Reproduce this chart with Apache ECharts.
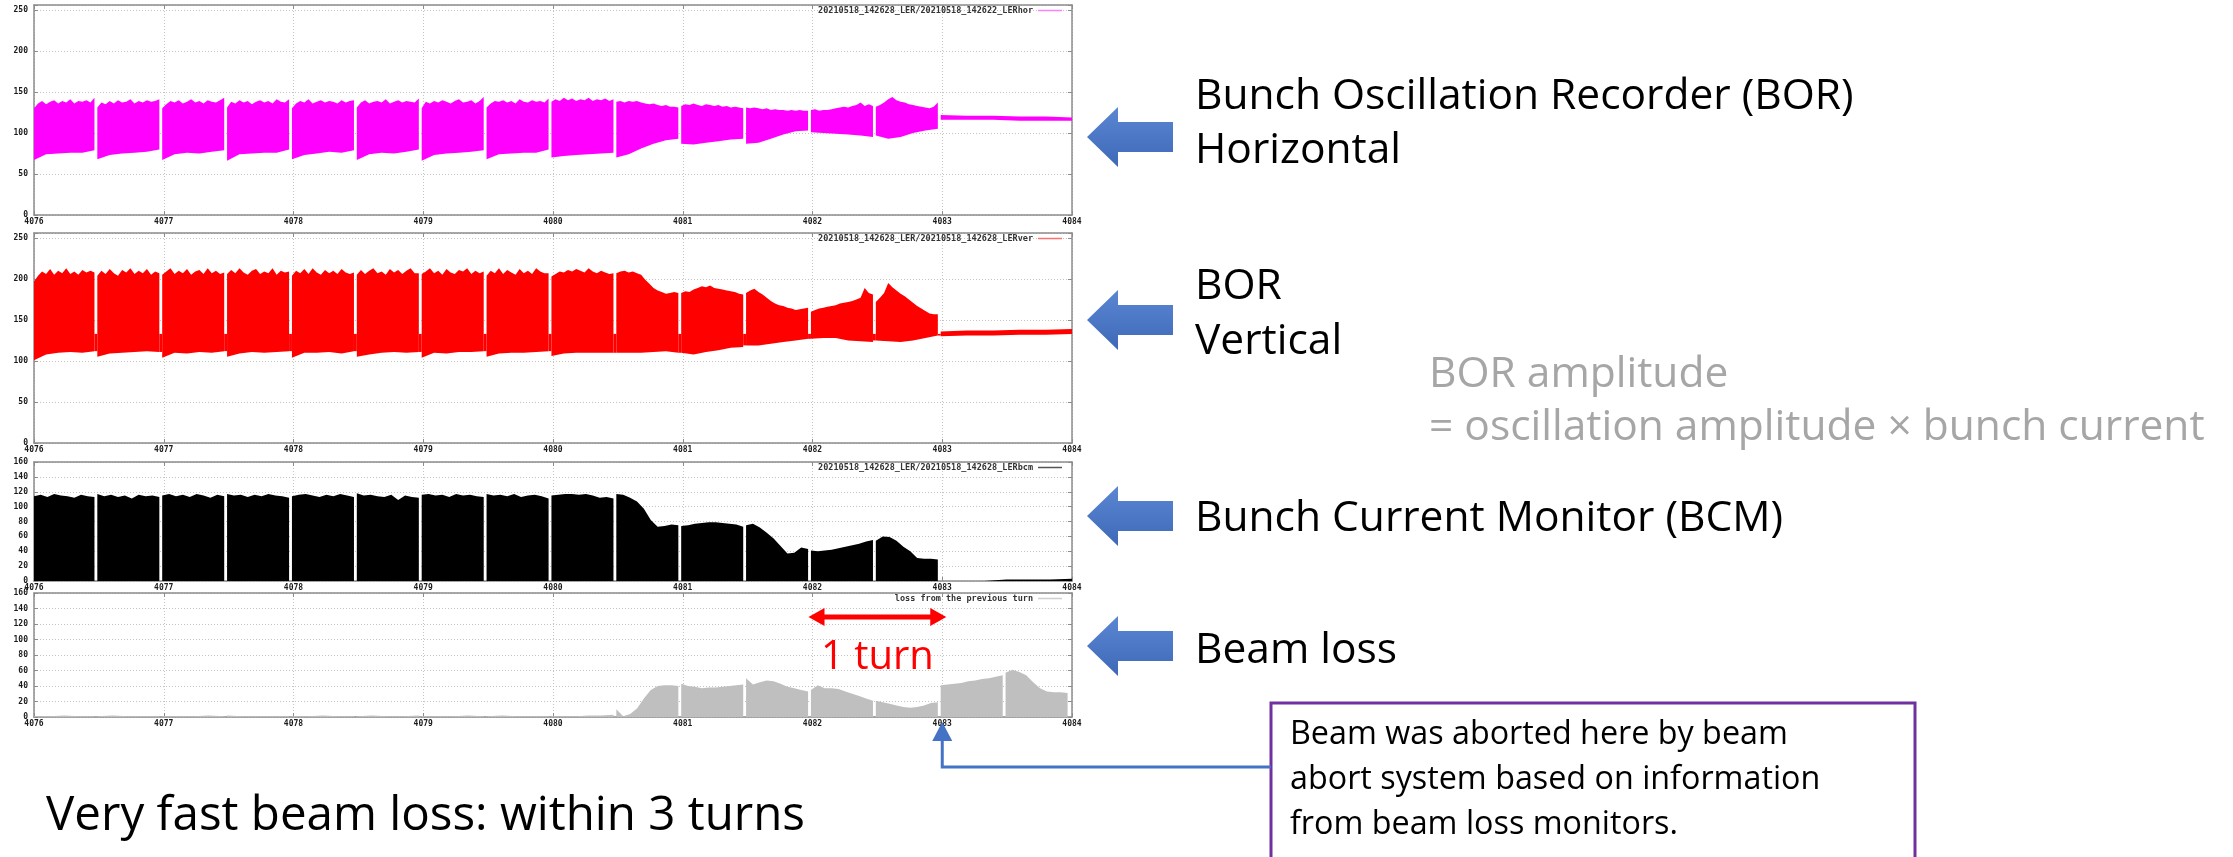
<!DOCTYPE html>
<html>
<head>
<meta charset="utf-8">
<script src="https://cdn.jsdelivr.net/npm/echarts@6/dist/echarts.min.js"></script>
<style>
  html, body { margin: 0; padding: 0; background: #fff; }
  #c { width: 2233px; height: 857px; }
</style>
</head>
<body>
<div id="c"></div>
<script>
// ---- axes ----
const turnRange = [4076, 4084];
const turnStep = 1;
const borRange = [0, 256];
const borStep = 50;
const countRange = [0, 160];
const countStep = 20;

// empty-bucket gaps between bunch trains (turn number)
const gapTurns = [4076.477, 4076.977, 4077.477, 4077.977, 4078.477, 4078.977, 4079.477, 4079.977,
                  4080.477, 4080.977, 4081.477, 4081.977, 4082.477, 4082.977, 4083.477, 4083.977];
const gapHalf = 0.011;
const abortTurn = 4083;

// ---- BOR horizontal: upper / lower envelope per bunch train ----
const horTop = [
  [130, 136, 139, 135, 138, 140, 136, 139, 137, 141, 136, 139, 138, 140, 137, 143],
  [131, 137, 135, 139, 136, 140, 137, 138, 141, 136, 139, 137, 140, 138, 139, 141],
  [130, 135, 139, 137, 140, 136, 138, 141, 137, 139, 136, 140, 138, 137, 140, 143],
  [131, 138, 136, 140, 137, 139, 135, 138, 140, 137, 139, 136, 141, 138, 137, 141],
  [130, 136, 139, 137, 141, 136, 138, 140, 137, 139, 138, 136, 140, 137, 139, 140],
  [131, 137, 140, 136, 138, 139, 137, 141, 136, 138, 140, 137, 139, 138, 137, 142],
  [130, 138, 136, 139, 137, 140, 138, 136, 139, 141, 137, 138, 140, 136, 139, 144],
  [131, 136, 139, 138, 140, 137, 139, 136, 141, 138, 137, 140, 138, 139, 137, 142],
  [138, 141, 139, 143, 140, 142, 139, 141, 140, 143, 139, 141, 140, 142, 139, 141],
  [138, 139, 137, 139, 138, 139, 137, 136, 135, 136, 134, 133, 134, 132, 132, 131],
  [133, 135, 134, 136, 134, 133, 135, 134, 133, 134, 132, 133, 131, 132, 131, 130],
  [131, 130, 131, 130, 129, 130, 128, 129, 128, 128, 127, 128, 127, 128, 127, 127],
  [128, 129, 127, 128, 128, 129, 130, 131, 132, 131, 133, 134, 137, 133, 135, 133],
  [132, 134, 137, 141, 144, 140, 138, 137, 135, 134, 133, 132, 131, 130, 132, 137]
];
const horBot = [
  [67, 74, 75, 76, 76, 79],
  [68, 73, 75, 76, 77, 80],
  [67, 74, 76, 75, 77, 79],
  [66, 74, 75, 76, 76, 80],
  [68, 73, 75, 77, 76, 79],
  [67, 74, 76, 75, 77, 80],
  [66, 73, 75, 76, 77, 79],
  [68, 74, 75, 76, 76, 80],
  [70, 72, 73, 74, 75, 76],
  [70, 74, 81, 87, 91, 93],
  [87, 86, 88, 90, 92, 93],
  [87, 88, 93, 98, 102, 103],
  [101, 100, 99, 98, 97, 95],
  [97, 93, 95, 100, 103, 105]
];
const horTailTop = [122, 121, 121, 120, 120, 119];
const horTailBot = [116, 116, 116, 115, 115, 115];

// ---- BOR vertical ----
const verTop = [
  [197, 204, 209, 206, 212, 205, 210, 207, 213, 206, 209, 205, 211, 208, 210, 208],
  [204, 210, 206, 212, 207, 204, 211, 208, 213, 206, 210, 207, 212, 205, 209, 207],
  [205, 209, 213, 206, 210, 207, 212, 205, 209, 211, 206, 213, 207, 210, 206, 208],
  [206, 211, 207, 213, 208, 205, 210, 212, 206, 209, 207, 213, 205, 210, 208, 209],
  [204, 210, 207, 212, 206, 213, 208, 205, 211, 207, 210, 206, 212, 208, 206, 208],
  [205, 211, 206, 210, 213, 207, 209, 205, 212, 208, 211, 206, 210, 213, 207, 207],
  [206, 209, 213, 207, 210, 205, 212, 208, 206, 211, 209, 213, 206, 210, 207, 209],
  [204, 210, 207, 213, 206, 211, 208, 205, 212, 207, 210, 206, 213, 209, 207, 207],
  [203, 206, 209, 208, 211, 209, 212, 210, 208, 213, 209, 207, 210, 208, 206, 207],
  [207, 209, 210, 208, 209, 207, 205, 199, 194, 189, 186, 184, 182, 183, 184, 183],
  [183, 185, 184, 187, 189, 191, 190, 192, 189, 188, 187, 186, 185, 184, 182, 181],
  [183, 186, 188, 184, 181, 177, 173, 170, 168, 167, 165, 164, 162, 163, 164, 165],
  [160, 162, 164, 165, 166, 167, 168, 170, 171, 172, 173, 175, 177, 189, 183, 181],
  [172, 177, 183, 195, 190, 186, 182, 179, 175, 171, 167, 164, 161, 158, 157, 157]
];
const verBot = [
  [101, 108, 110, 111, 110, 112],
  [105, 109, 110, 111, 112, 111],
  [104, 110, 109, 111, 110, 112],
  [105, 109, 111, 110, 111, 112],
  [104, 110, 110, 111, 109, 112],
  [105, 108, 110, 111, 110, 111],
  [104, 110, 109, 111, 111, 112],
  [105, 109, 110, 110, 111, 112],
  [106, 109, 110, 110, 110, 110],
  [110, 110, 110, 111, 112, 110],
  [110, 108, 111, 113, 116, 117],
  [119, 119, 121, 123, 125, 127],
  [127, 128, 128, 125, 124, 123],
  [125, 124, 123, 125, 128, 131]
];
const verTailTop = [136, 137, 137, 138, 138, 139];
const verTailBot = [130, 131, 131, 132, 132, 133];
const verGapLevel = 133;

// ---- bunch current ----
const bcmTop = [
  [114, 116, 113, 117, 115, 114, 112, 116, 114, 113],
  [117, 114, 116, 113, 115, 111, 116, 114, 115, 113],
  [115, 117, 114, 116, 113, 117, 115, 112, 116, 114],
  [117, 115, 116, 113, 116, 114, 117, 115, 114, 112],
  [114, 116, 117, 115, 113, 116, 114, 117, 115, 113],
  [118, 115, 116, 114, 113, 116, 109, 115, 113, 112],
  [116, 117, 115, 116, 113, 117, 115, 116, 114, 113],
  [117, 115, 116, 114, 117, 113, 115, 116, 114, 111],
  [115, 116, 117, 117, 116, 117, 115, 112, 113, 111],
  [117, 116, 112, 107, 97, 82, 73, 74, 76, 75],
  [74, 75, 77, 78, 79, 79, 78, 77, 76, 73],
  [75, 77, 72, 65, 57, 47, 37, 38, 45, 43],
  [41, 40, 41, 42, 44, 46, 48, 50, 53, 55],
  [54, 60, 59, 54, 46, 40, 31, 30, 30, 29]
];
const bcmTail = [0, 0, 0, 2, 2, 2, 3];

// ---- loss from the previous turn ----
const lossTop = [
  [1, 1, 2, 1, 1],
  [1, 2, 1, 1, 1],
  [1, 1, 1, 2, 1],
  [2, 1, 1, 1, 1],
  [1, 1, 2, 1, 1],
  [1, 2, 1, 1, 2],
  [1, 1, 1, 2, 1],
  [1, 2, 1, 1, 1],
  [1, 1, 1, 2, 2, 3],
  [10, 1, 4, 11, 24, 35, 40, 41, 41, 40],
  [43, 40, 39, 37, 38, 38, 39, 40, 41, 42],
  [50, 42, 45, 47, 46, 43, 39, 37, 35, 33],
  [35, 41, 37, 37, 36, 33, 30, 27, 24, 21],
  [21, 19, 17, 15, 13, 12, 13, 15, 18, 19],
  [41, 42, 43, 44, 46, 47, 49, 50, 52, 54],
  [57, 61, 58, 54, 45, 37, 33, 32, 32, 31]
];

const seriesNames = [
  '20210518_142628_LER/20210518_142622_LERhor',
  '20210518_142628_LER/20210518_142628_LERver',
  '20210518_142628_LER/20210518_142628_LERbcm',
  'loss from the previous turn'
];

// ---- layout / styles ----
const plotLeft = 34, plotWidth = 1038;
const panels = [
  { top: 5,   height: 210, range: borRange,   step: borStep,   color: '#ff00ff', legend: '#ff80ff' },
  { top: 233, height: 210, range: borRange,   step: borStep,   color: '#ff0000', legend: '#ff7070' },
  { top: 462, height: 119, range: countRange, step: countStep, color: '#000000', legend: '#555555' },
  { top: 593, height: 124, range: countRange, step: countStep, color: '#bfbfbf', legend: '#cfcfcf' }
];
const frameColor = '#8c8c8c';
const tickFont = { fontFamily: 'DejaVu Sans Mono', fontSize: 8, fontWeight: 'bold', color: '#1a1a1a' };
const slideFont = '"Open Sans", "Noto Sans", sans-serif';

function segments(tops, bots, tailTop, tailBot) {
  const segs = tops.map((top, k) => ({
    top, bot: bots ? bots[k] : null,
    from: k === 0 ? turnRange[0] : gapTurns[k - 1] + gapHalf,
    to: gapTurns[k] - gapHalf
  }));
  if (tailTop) {
    segs.push({ top: tailTop, bot: tailBot, from: gapTurns[tops.length - 1] + gapHalf, to: turnRange[1] });
  }
  return segs;
}
function along(seg, i, n) { return seg.from + (seg.to - seg.from) * i / (n - 1); }

function bandSeries(name, idx, segs, color) {
  return {
    type: 'custom', name, xAxisIndex: idx, yAxisIndex: idx, silent: true, z: 3,
    itemStyle: { color },
    data: segs.map(s => [s.from, 0]),
    renderItem(params, api) {
      const s = segs[params.dataIndex];
      const pts = s.top.map((v, i) => api.coord([along(s, i, s.top.length), v]));
      if (s.bot) {
        for (let i = s.bot.length - 1; i >= 0; i--) pts.push(api.coord([along(s, i, s.bot.length), s.bot[i]]));
      } else {
        pts.push(api.coord([s.to, 0]));
        pts.push(api.coord([s.from, 0]));
      }
      return { type: 'polygon', shape: { points: pts }, style: { fill: color } };
    }
  };
}

// signal that stays in the empty buckets below a given level
function gapFillSeries(idx, segs, level, color) {
  const pairs = segs.slice(0, -1).map((s, k) => [s, segs[k + 1]]);
  return {
    type: 'custom', xAxisIndex: idx, yAxisIndex: idx, silent: true, z: 3,
    data: pairs.map(p => [p[0].to, 0]),
    renderItem(params, api) {
      const [a, b] = pairs[params.dataIndex];
      const low = Math.max(a.bot[a.bot.length - 1], b.bot[0]);
      const p1 = api.coord([a.to, level]);
      const p2 = api.coord([b.from, low]);
      return { type: 'rect', shape: { x: p1[0], y: p1[1], width: p2[0] - p1[0], height: Math.max(0, p2[1] - p1[1]) },
               style: { fill: color } };
    }
  };
}

const horSegs = segments(horTop, horBot, horTailTop, horTailBot);
const verSegs = segments(verTop, verBot, verTailTop, verTailBot);
const bcmSegs = segments(bcmTop, null, bcmTail, null);
const lossSegs = segments(lossTop, null);

const grid = panels.map(p => ({ left: plotLeft, width: plotWidth, top: p.top, height: p.height }));
const xAxis = [], yAxis = [];
panels.forEach((p, i) => {
  xAxis[i] = {
    type: 'value', gridIndex: i, min: turnRange[0], max: turnRange[1], interval: turnStep,
    axisLine: { show: true, onZero: false, lineStyle: { color: frameColor, width: 1.5 } },
    axisTick: { show: true, inside: true, length: 4, lineStyle: { color: frameColor } },
    axisLabel: Object.assign({ margin: 3, formatter: v => String(v) }, tickFont),
    splitLine: { show: true, lineStyle: { color: '#c4c4c4', type: [1, 2], width: 1 } }
  };
  xAxis[i + 4] = {
    type: 'value', gridIndex: i, position: 'top', min: turnRange[0], max: turnRange[1], interval: turnStep,
    axisLine: { show: true, onZero: false, lineStyle: { color: frameColor, width: 1.5 } },
    axisTick: { show: true, inside: true, length: 4, lineStyle: { color: frameColor } },
    axisLabel: { show: false }, splitLine: { show: false }
  };
  yAxis[i] = {
    type: 'value', gridIndex: i, min: p.range[0], max: p.range[1], interval: p.step,
    axisLine: { show: true, lineStyle: { color: frameColor, width: 1.5 } },
    axisTick: { show: true, inside: true, length: 4, lineStyle: { color: frameColor } },
    axisLabel: Object.assign({ margin: 6, formatter: v => (v % p.step === 0 ? String(v) : '') }, tickFont),
    splitLine: { show: true, lineStyle: { color: '#c4c4c4', type: [1, 2], width: 1 } }
  };
  yAxis[i + 4] = {
    type: 'value', gridIndex: i, position: 'right', min: p.range[0], max: p.range[1], interval: p.step,
    axisLine: { show: true, lineStyle: { color: frameColor, width: 1.5 } },
    axisTick: { show: true, inside: true, length: 4, lineStyle: { color: frameColor } },
    axisLabel: { show: false }, splitLine: { show: false }
  };
});

const legend = panels.map((p, i) => ({
  data: [{ name: seriesNames[i], icon: 'path://M0,0L24,0L24,1.5L0,1.5Z', itemStyle: { color: p.legend } }],
  right: 2233 - (plotLeft + plotWidth) + 10, top: p.top + 1,
  align: 'right', itemWidth: 24, itemHeight: 2, padding: 0, selectedMode: false,
  textStyle: { fontFamily: 'DejaVu Sans Mono', fontSize: 8.5, fontWeight: 'bold', color: '#333' }
}));

const series = [
  bandSeries(seriesNames[0], 0, horSegs, panels[0].color),
  bandSeries(seriesNames[1], 1, verSegs, panels[1].color),
  gapFillSeries(1, verSegs, verGapLevel, panels[1].color),
  bandSeries(seriesNames[2], 2, bcmSegs, panels[2].color),
  bandSeries(seriesNames[3], 3, lossSegs, panels[3].color)
];

const chart = echarts.init(document.getElementById('c'));
chart.setOption({ animation: false, backgroundColor: '#fff', grid, xAxis, yAxis, legend, series });

// ---- slide annotations ----
function text(str, x, baseline, size, color) {
  return {
    type: 'text', x, y: baseline - size * 0.34, silent: true, z: 10,
    style: { text: str, fontFamily: slideFont, fontSize: size, fill: color,
             align: 'left', textAlign: 'left', verticalAlign: 'middle', textVerticalAlign: 'middle' }
  };
}
function blockArrow(cy) {
  const x = 1087;
  return {
    type: 'polygon', silent: true, z: 10,
    shape: { points: [[x, cy], [x + 31, cy - 30], [x + 31, cy - 15], [x + 86, cy - 15],
                      [x + 86, cy + 15], [x + 31, cy + 15], [x + 31, cy + 30]] },
    style: { fill: new echarts.graphic.LinearGradient(0, 0, 0, 1, [
      { offset: 0, color: '#5b86d2' }, { offset: 1, color: '#3e69b8' }]) }
  };
}

const g = [];
[137, 320, 516, 646].forEach(cy => g.push(blockArrow(cy)));
g.push(text('Bunch Oscillation Recorder (BOR)', 1195, 111, 42.5, '#000'));
g.push(text('Horizontal', 1195, 165, 42.5, '#000'));
g.push(text('BOR', 1195, 301, 42.5, '#000'));
g.push(text('Vertical', 1195, 356, 42.5, '#000'));
g.push(text('BOR amplitude', 1429, 389, 42.5, '#a6a6a6'));
g.push(text('= oscillation amplitude \u00d7 bunch current', 1429, 442, 42.5, '#a6a6a6'));
g.push(text('Bunch Current Monitor (BCM)', 1195, 533, 42.5, '#000'));
g.push(text('Beam loss', 1195, 665, 42.5, '#000'));
g.push(text('Very fast beam loss: within 3 turns', 46, 833, 47.5, '#000'));

// note box
g.push({ type: 'rect', silent: true, z: 9, shape: { x: 1271, y: 703, width: 644, height: 220 },
         style: { fill: '#fff', stroke: '#7030a0', lineWidth: 3 } });
g.push(text('Beam was aborted here by beam', 1290, 746, 32.3, '#000'));
g.push(text('abort system based on information', 1290, 791, 32.3, '#000'));
g.push(text('from beam loss monitors.', 1290, 836, 32.3, '#000'));

// pointer to the abort turn
const abortPx = chart.convertToPixel({ gridIndex: 3 }, [abortTurn, 0]);
const ax = abortPx[0];
g.push({ type: 'polyline', silent: true, z: 10, shape: { points: [[ax, 738], [ax, 767], [1271, 767]] },
         style: { stroke: '#4472c4', lineWidth: 3, fill: null } });
g.push({ type: 'polygon', silent: true, z: 10, shape: { points: [[ax, 722], [ax - 10, 741], [ax + 10, 741]] },
         style: { fill: '#4472c4' } });

// one-turn span
const p0 = chart.convertToPixel({ gridIndex: 3 }, [abortTurn - 1, 129]);
const p1 = chart.convertToPixel({ gridIndex: 3 }, [abortTurn, 129]);
const xa = p0[0] - 4, xb = p1[0] + 4, ya = p0[1];
g.push({ type: 'line', silent: true, z: 10, shape: { x1: xa + 12, y1: ya, x2: xb - 12, y2: ya },
         style: { stroke: '#ff0000', lineWidth: 5 } });
g.push({ type: 'polygon', silent: true, z: 10, shape: { points: [[xa, ya], [xa + 16, ya - 9], [xa + 16, ya + 9]] },
         style: { fill: '#ff0000' } });
g.push({ type: 'polygon', silent: true, z: 10, shape: { points: [[xb, ya], [xb - 16, ya - 9], [xb - 16, ya + 9]] },
         style: { fill: '#ff0000' } });
const turnLabel = text('1 turn', (p0[0] + p1[0]) / 2, 671, 40, '#ff0000');
turnLabel.style.align = 'center';
turnLabel.style.textAlign = 'center';
g.push(turnLabel);

chart.setOption({ graphic: { elements: g } });
</script>
</body>
</html>
